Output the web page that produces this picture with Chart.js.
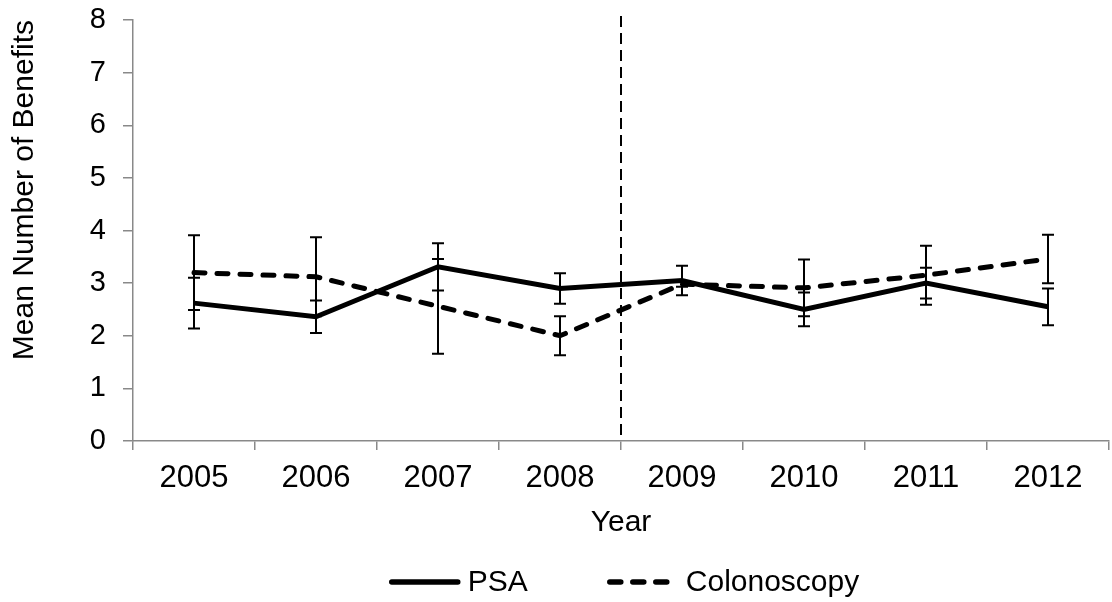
<!DOCTYPE html>
<html>
<head>
<title>Mean Number of Benefits</title>
<script src="https://cdn.jsdelivr.net/npm/chart.js"></script>
<style>
  body { margin: 0; background: #fff; }
  #wrap { width: 1112px; height: 602px; }
</style>
</head>
<body>
<div id="wrap"><canvas id="chart"></canvas></div>
<script>
// data
const years = ['2005', '2006', '2007', '2008', '2009', '2010', '2011', '2012'];
const psaMean = [2.62, 2.36, 3.31, 2.90, 3.05, 2.50, 3.00, 2.55];
const psaErr = [0.48, 0.31, 0.45, 0.29, 0.28, 0.32, 0.29, 0.35];
const colonMean = [3.20, 3.12, 2.56, 2.00, 2.98, 2.91, 3.15, 3.46];
const colonErr = [0.71, 0.75, 0.90, 0.37, 0.05, 0.54, 0.56, 0.46];
const yMin = 0, yMax = 8, yStep = 1;
const splitAfter = '2008'; // dashed marker between 2008 and 2009

const FONT = "'Liberation Sans', Arial, sans-serif";
const axisGray = '#898989';

// error bars drawn with the scales
const errorBars = {
  id: 'errorBars',
  afterDatasetsDraw(chart) {
    const ctx = chart.ctx, xs = chart.scales.x, ys = chart.scales.y;
    ctx.save();
    ctx.strokeStyle = '#000';
    ctx.lineWidth = 2;
    chart.data.datasets.forEach(ds => {
      ds.data.forEach((v, i) => {
        const e = ds.errors[i];
        const x = xs.getPixelForValue(i);
        const yt = ys.getPixelForValue(v + e), yb = ys.getPixelForValue(v - e);
        ctx.beginPath();
        ctx.moveTo(x, yt); ctx.lineTo(x, yb);
        ctx.moveTo(x - 6, yt); ctx.lineTo(x + 6, yt);
        ctx.moveTo(x - 6, yb); ctx.lineTo(x + 6, yb);
        ctx.stroke();
      });
    });
    ctx.restore();
  }
};

// vertical dashed divider
const divider = {
  id: 'divider',
  beforeDatasetsDraw(chart) {
    const ctx = chart.ctx, xs = chart.scales.x, area = chart.chartArea;
    const i = years.indexOf(splitAfter);
    const x = (xs.getPixelForValue(i) + xs.getPixelForValue(i + 1)) / 2;
    ctx.save();
    ctx.strokeStyle = '#000';
    ctx.lineWidth = 2;
    ctx.setLineDash([11, 6]);
    ctx.beginPath();
    ctx.moveTo(x, area.top - 4);
    ctx.lineTo(x, area.bottom);
    ctx.stroke();
    ctx.restore();
  }
};

// legend under the chart
const bottomLegend = {
  id: 'bottomLegend',
  afterDraw(chart) {
    const ctx = chart.ctx, area = chart.chartArea;
    const sample = 72, gap = 7, between = 79, y = 582;
    ctx.save();
    ctx.font = '30px ' + FONT;
    ctx.textBaseline = 'middle';
    ctx.fillStyle = '#000';
    const items = chart.data.datasets.map(ds => ({ ds, w: sample + gap + ctx.measureText(ds.label).width }));
    const total = items.reduce((s, it) => s + it.w, 0) + between * (items.length - 1);
    let x = (area.left + area.right) / 2 + 3 - total / 2;
    items.forEach(({ ds, w }) => {
      ctx.strokeStyle = ds.borderColor;
      ctx.lineWidth = 5.5;
      ctx.lineCap = 'round';
      ctx.setLineDash(ds.borderDash || []);
      ctx.beginPath();
      ctx.moveTo(x + 3, y);
      ctx.lineTo(x + sample - 3, y);
      ctx.stroke();
      ctx.fillText(ds.label, x + sample + gap, y + 1);
      x += w + between;
    });
    ctx.restore();
  }
};

new Chart(document.getElementById('chart'), {
  type: 'line',
  data: {
    labels: years,
    datasets: [
      { label: 'PSA', data: psaMean, errors: psaErr, borderColor: '#000', borderWidth: 5, pointRadius: 0, tension: 0 },
      { label: 'Colonoscopy', data: colonMean, errors: colonErr, borderColor: '#000', borderWidth: 5,
        borderDash: [11, 12], borderCapStyle: 'round', pointRadius: 0, tension: 0 }
    ]
  },
  options: {
    responsive: true,
    maintainAspectRatio: false,
    animation: false,
    layout: { padding: { top: 0, right: 3, left: 4, bottom: 61.5 } },
    plugins: { legend: { display: false }, tooltip: { enabled: false } },
    scales: {
      x: {
        offset: true,
        afterFit(scale) { scale.height = 99.5; },
        grid: { offset: true, drawOnChartArea: false, color: axisGray, tickLength: 9, lineWidth: 1.5 },
        border: { color: axisGray, width: 1.5 },
        ticks: { color: '#000', font: { family: FONT, size: 31 }, padding: 10 },
        title: { display: true, text: 'Year', color: '#000', font: { family: FONT, size: 30 }, padding: { top: 0, bottom: 0 } }
      },
      y: {
        min: yMin, max: yMax,
        afterFit(scale) { scale.width = 129; scale.paddingTop = 20; scale.paddingBottom = 18; },
        grid: { drawOnChartArea: false, color: axisGray, tickLength: 10, lineWidth: 1.5 },
        border: { color: axisGray, width: 1.5 },
        ticks: { stepSize: yStep, color: '#000', font: { family: FONT, size: 29 }, padding: 17 },
        title: { display: true, text: 'Mean Number of Benefits', align: 'end', color: '#000', font: { family: FONT, size: 30 }, padding: { top: 3, bottom: 0 } }
      }
    }
  },
  plugins: [divider, errorBars, bottomLegend]
});
</script>
</body>
</html>
